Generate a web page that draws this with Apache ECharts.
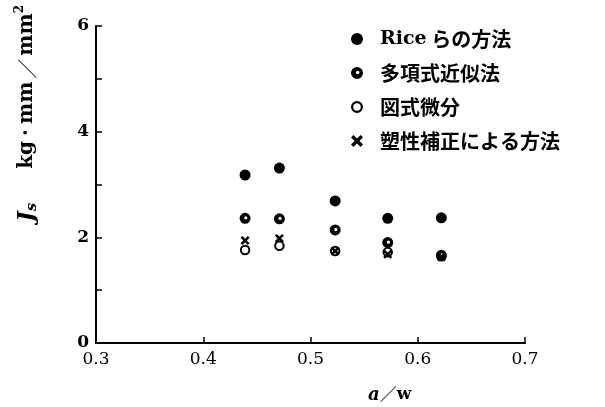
<!DOCTYPE html>
<html><head><meta charset="utf-8">
<script src="https://cdn.jsdelivr.net/npm/echarts@6/dist/echarts.min.js"></script>
<style>html,body{margin:0;padding:0;background:#fff}#c{width:605px;height:407px}</style>
</head><body><div id="c"></div>
<script>
var seriesNames = ['Rice らの方法', '多項式近似法', '図式微分', '塑性補正による方法'];
var aw = [0.439, 0.471, 0.523, 0.572, 0.622];
var riceJ = [3.18, 3.31, 2.69, 2.36, 2.37];
var polyJ = [2.36, 2.35, 2.14, 1.90, 1.66];
var graphJ = [1.76, 1.84, 1.74, 1.72, 1.64];
var plastJ = [1.94, 1.98, 1.74, 1.68, 1.63];
var xTicks = [0.3, 0.4, 0.5, 0.6, 0.7];
var yTicks = [0, 2, 4, 6];

function pairs(ys) { return aw.map(function (x, i) { return [x, ys[i]]; }); }
var crossPath = 'path://M0,2 L2,0 L5,3 L8,0 L10,2 L7,5 L10,8 L8,10 L5,7 L2,10 L0,8 L3,5 Z';
var dotRing = 'path://M0,5 A5,5 0 1,1 10,5 A5,5 0 1,1 0,5 Z M4.1,4.6 A1.5,1.5 0 1,0 7.1,4.6 A1.5,1.5 0 1,0 4.1,4.6 Z';
var openRing = 'path://M0,5 A5,5 0 1,1 10,5 A5,5 0 1,1 0,5 Z M1.9,5 A3.1,3.1 0 1,0 8.1,5 A3.1,3.1 0 1,0 1.9,5 Z';
var serif = '"DejaVu Serif", "Liberation Serif", serif';
var cjk = '"Noto Sans CJK JP", sans-serif';

var styles = [
  {symbol: 'circle', size: 11, itemStyle: {color: '#000', opacity: 1}},
  {symbol: dotRing, size: 11, itemStyle: {color: '#000', opacity: 1}},
  {symbol: openRing, size: 10.5, itemStyle: {color: '#000', opacity: 1}},
  {symbol: crossPath, size: 9, itemStyle: {color: '#000', opacity: 1}}
];
var dataSets = [riceJ, polyJ, graphJ, plastJ];
var zs = [4, 3, 2, 5];

var chart = echarts.init(document.getElementById('c'), null, {renderer: 'canvas'});
chart.setOption({
  animation: false,
  backgroundColor: '#fff',
  grid: {left: 96, right: 80, top: 26, bottom: 64},
  xAxis: {
    type: 'value', min: 0.3, max: 0.7, interval: 0.1,
    axisLine: {lineStyle: {color: '#000', width: 2}},
    axisTick: {inside: true, length: 6, lineStyle: {color: '#000', width: 1.5}},
    axisLabel: {color: '#000', fontFamily: serif, fontSize: 17, margin: 8,
      formatter: function (v) {
        var r = Math.round(v * 10) / 10;
        return xTicks.indexOf(r) >= 0 ? r.toFixed(1) : '';
      }},
    splitLine: {show: false}
  },
  yAxis: {
    type: 'value', min: 0, max: 6, interval: 1,
    axisLine: {lineStyle: {color: '#000', width: 2}},
    axisTick: {inside: true, length: 6, lineStyle: {color: '#000', width: 1.5}},
    axisLabel: {color: '#000', fontFamily: serif, fontWeight: 'bold', fontSize: 17, margin: 7,
      formatter: function (v) { return yTicks.indexOf(v) >= 0 ? String(v) : ''; }},
    splitLine: {show: false}
  },
  legend: {
    orient: 'vertical', left: 346, top: 24,
    itemWidth: 12, itemHeight: 12, itemGap: 14,
    data: seriesNames.map(function (n, i) {
      return {name: n, icon: styles[i].symbol, itemStyle: styles[i].itemStyle};
    }),
    textStyle: {color: '#000', fontFamily: cjk, fontWeight: 'bold', fontSize: 20, padding: [0, 0, 0, 12],
      rich: {r: {fontFamily: serif, fontWeight: 'bold', fontSize: 19, color: '#000'}}},
    formatter: function (n) {
      if (n.indexOf('Rice') === 0) return '{r|Rice} ' + n.slice(5);
      return n;
    }
  },
  graphic: [
    {type: 'text', left: 14, top: 5, rotation: Math.PI / 2, z: 10,
      style: {
        text: '{J|J}{s|s}{g|kg}{d|·}{u|mm}{sl|／}{u|mm}{p|2}',
        rich: {
          J: {fontFamily: serif, fontStyle: 'italic', fontWeight: 'bold', fontSize: 22, fill: '#000'},
          s: {fontFamily: serif, fontStyle: 'italic', fontWeight: 'bold', fontSize: 15, fill: '#000', padding: [10, 34, 0, 0]},
          g: {fontFamily: serif, fontWeight: 'bold', fontSize: 20, fill: '#000'},
          d: {fontFamily: serif, fontWeight: 'bold', fontSize: 20, fill: '#000', padding: [0, 5, 0, 5]},
          u: {fontFamily: serif, fontWeight: 'bold', fontSize: 20, fill: '#000'},
          sl: {fontFamily: cjk, fontSize: 20, fill: '#000', padding: [0, 3, 0, 3]},
          p: {fontFamily: serif, fontWeight: 'bold', fontSize: 12, fill: '#000', padding: [0, 0, 14, 0]}
        }
      }},
    {type: 'text', left: 368, top: 386, z: 10,
      style: {
        text: '{a|a}{sl|／}{w|w}',
        rich: {
          a: {fontFamily: serif, fontStyle: 'italic', fontWeight: 'bold', fontSize: 18, fill: '#000'},
          sl: {fontFamily: cjk, fontSize: 17, fill: '#000'},
          w: {fontFamily: serif, fontWeight: 'bold', fontSize: 17, fill: '#000'}
        }
      }}
  ],
  series: seriesNames.map(function (n, i) {
    return {name: n, type: 'scatter', data: pairs(dataSets[i]), symbol: styles[i].symbol,
      symbolSize: styles[i].size, itemStyle: styles[i].itemStyle, z: zs[i],
      emphasis: {disabled: true}};
  })
});
</script></body></html>
